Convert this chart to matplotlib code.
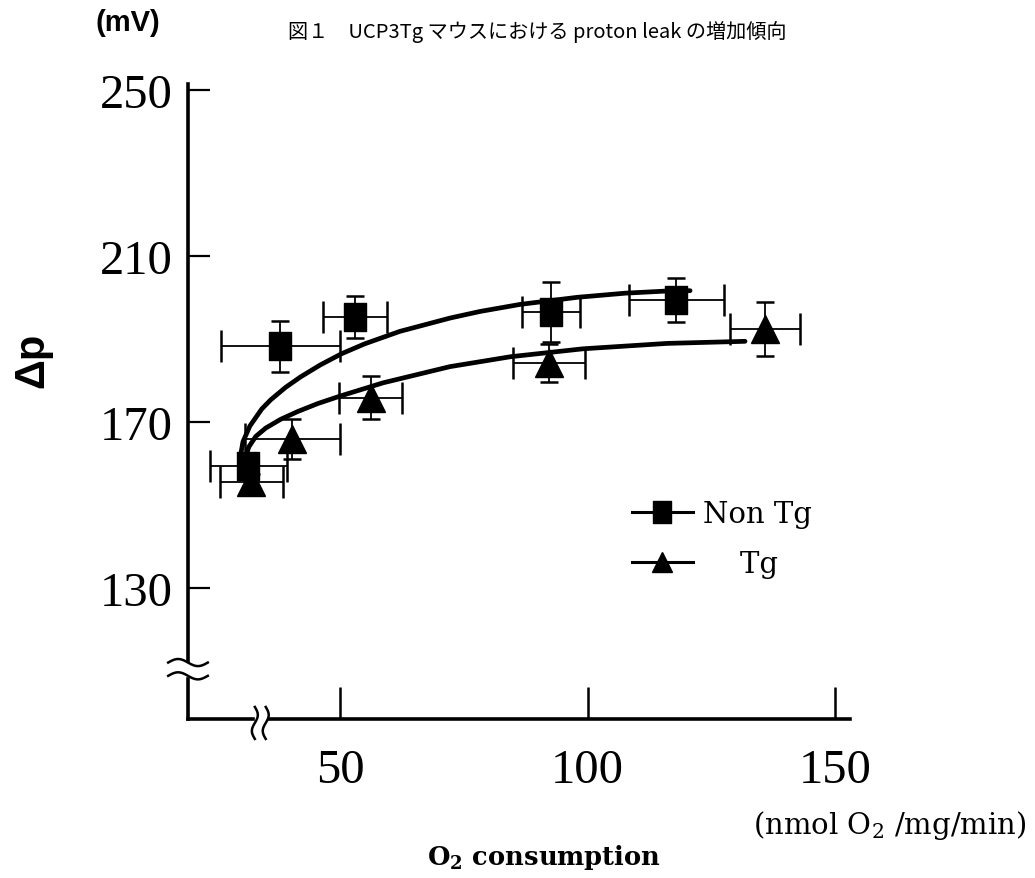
import numpy as np
import matplotlib.pyplot as plt
from matplotlib.lines import Line2D
from matplotlib.path import Path

plt.rcParams['font.family'] = ['DejaVu Serif']

# Non Tg (squares): O2 consumption, delta p, errors
nontg_x = [31.5, 37.9, 53.0, 92.6, 117.9]
nontg_y = [159.4, 188.2, 195.3, 196.5, 199.4]
nontg_xerr = [7.7, 12.0, 6.5, 5.8, 9.6]
nontg_yerr = [2.5, 6.1, 5.0, 7.3, 5.3]

# Tg (triangles)
tg_x = [32.1, 40.4, 56.2, 92.2, 135.9]
tg_y = [155.5, 165.9, 175.8, 184.2, 192.4]
tg_xerr = [6.4, 9.6, 6.4, 7.3, 7.1]
tg_yerr = [2.0, 4.8, 5.2, 4.5, 6.5]

# fitted curves
fit_nontg_x = [29.8, 30.4, 31.8, 34.2, 36.0, 39.0, 42.0, 46.0, 50.3, 55.0, 62.1,
               72.2, 78.3, 86.4, 97.9, 107.6, 115.7, 120.7]
fit_nontg_y = [161.1, 165.2, 169.0, 173.1, 175.3, 178.3, 180.8, 183.7, 186.4, 188.8, 191.8,
               195.0, 196.6, 198.3, 200.0, 201.0, 201.5, 201.6]
fit_tg_x = [30.8, 31.6, 33.0, 35.0, 38.0, 41.5, 45.5, 50.0, 58.7, 72.2, 84.5, 99.1, 116.1, 131.8]
fit_tg_y = [161.1, 164.0, 166.5, 168.5, 170.6, 172.5, 174.4, 176.2, 179.4, 183.3, 185.7, 187.6, 188.9, 189.4]

x_ticks = [50, 100, 150]
y_ticks = [130, 170, 210, 250]
y_break = (108.8, 112.0)
x_break = (32.8, 35.0)

# slightly tall square marker
tall_square = Path([(-0.8, -1), (0.8, -1), (0.8, 1), (-0.8, 1), (-0.8, -1)],
                   [Path.MOVETO, Path.LINETO, Path.LINETO, Path.LINETO, Path.CLOSEPOLY])

fig = plt.figure(figsize=(10.35, 8.79), dpi=100)
ax = fig.add_axes([188 / 1035, 159 / 879, 662 / 1035, 635 / 879])
ax.set_xlim(19.3, 153.0)
ax.set_ylim(98.4, 251.4)

for s in ['top', 'right']:
    ax.spines[s].set_visible(False)
for s in ['left', 'bottom']:
    ax.spines[s].set_linewidth(2.6)

ax.set_xticks(x_ticks)
ax.set_yticks(y_ticks)
tick_font = {'family': 'Liberation Serif', 'size': 35}
ax.set_xticklabels([str(v) for v in x_ticks], fontdict=tick_font)
ax.set_yticklabels([str(v) for v in y_ticks], fontdict=tick_font)
ax.tick_params(axis='x', direction='in', length=23, width=1.8, pad=21)
ax.tick_params(axis='y', direction='in', length=16, width=1.6, pad=11)

# curves
ax.plot(fit_nontg_x, fit_nontg_y, color='k', lw=3.4, solid_capstyle='round', zorder=2)
ax.plot(fit_tg_x, fit_tg_y, color='k', lw=3.4, solid_capstyle='round', zorder=2)

# error bars (x and y caps differ in size)
for xs, ys, xe, ye in [(nontg_x, nontg_y, nontg_xerr, nontg_yerr),
                       (tg_x, tg_y, tg_xerr, tg_yerr)]:
    ax.errorbar(xs, ys, yerr=ye, fmt='none', ecolor='k', elinewidth=1.3,
                capsize=6.5, capthick=1.8, zorder=3)
    ax.errorbar(xs, ys, xerr=xe, fmt='none', ecolor='k', elinewidth=1.3,
                capsize=11.5, capthick=1.8, zorder=3)

ax.plot(nontg_x, nontg_y, marker=tall_square, ls='none', color='k', ms=20, zorder=4)
ax.plot(tg_x, tg_y, '^', color='k', ms=20, zorder=4)

# legend
handles = [Line2D([], [], color='k', lw=2.2, marker=tall_square, ms=16),
           Line2D([], [], color='k', lw=2.2, marker='^', ms=15)]
ax.legend(handles, ['Non Tg', '    Tg'], loc='upper left',
          bbox_to_anchor=(0.670, 0.345), frameon=False, fontsize=21,
          handlelength=2.1, handletextpad=0.35, labelspacing=0.75,
          borderpad=0, borderaxespad=0)

# axis breaks
t = np.linspace(0, 1, 60)
wave = np.sin(2 * np.pi * t)
bx = 15.3 + 8.0 * t
ax.fill_between([18.2, 20.4], y_break[0], y_break[1], color='white', zorder=5, clip_on=False)
for yb in y_break:
    ax.plot(bx, yb + 0.85 * wave, color='k', lw=1.8, zorder=6, clip_on=False)
by = 101.3 - 7.7 * t
ax.fill_betweenx([97.5, 99.3], x_break[0], x_break[1], color='white', zorder=5, clip_on=False)
for xb in x_break:
    ax.plot(xb + 0.6 * wave, by, color='k', lw=1.8, zorder=6, clip_on=False)

# texts
fig.text(537 / 1035, 1 - 32 / 879, '図１　UCP3Tg マウスにおける proton leak の増加傾向',
         family=['Noto Sans CJK JP', 'DejaVu Sans'], fontsize=14.5, ha='center', va='center')
fig.text(128 / 1035, 1 - 23 / 879, '(mV)', family='Liberation Sans', fontweight='bold',
         fontsize=21, ha='center', va='center')
fig.text(32 / 1035, 1 - 360 / 879, 'Δp', family='Liberation Sans', fontweight='bold',
         fontsize=30, rotation=90, ha='center', va='center')
fig.text(1027 / 1035, 1 - 826 / 879, r'(nmol O$_\mathregular{2}$ /mg/min)',
         fontsize=21, ha='right', va='center')
fig.text(544 / 1035, 1 - 858 / 879, r'O$_\mathregular{2}$ consumption',
         fontweight='bold', fontsize=18.5, ha='center', va='center')

fig.savefig('out.png', dpi=100)
